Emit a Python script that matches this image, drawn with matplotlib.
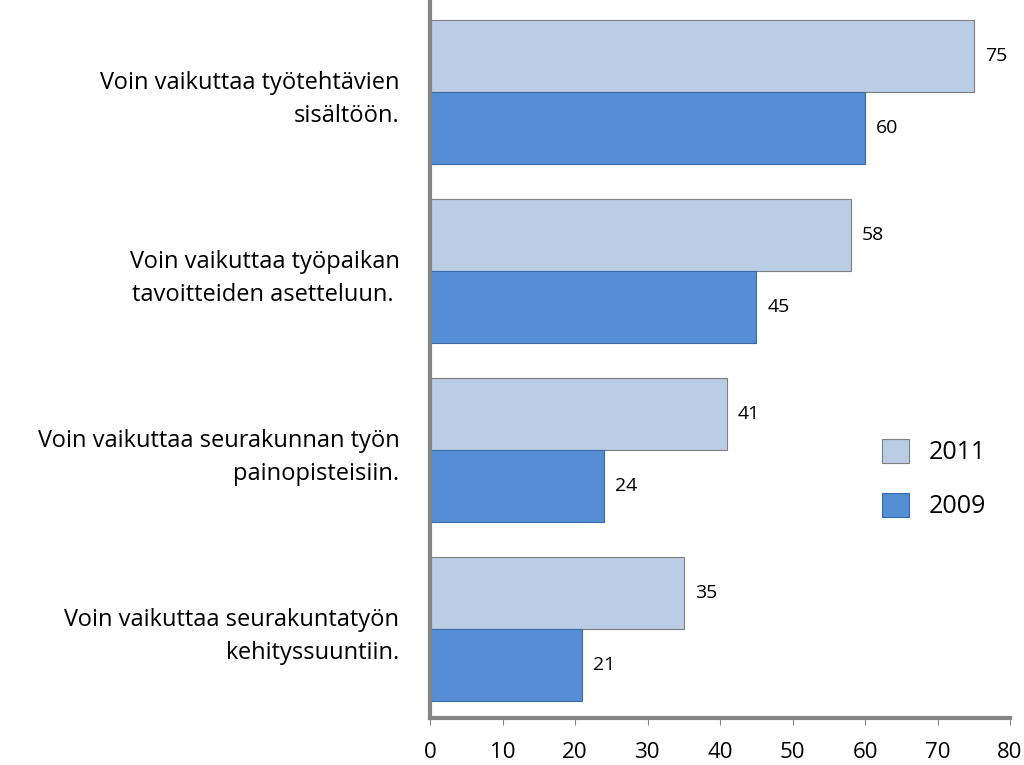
import matplotlib
matplotlib.use("Agg")
import matplotlib.pyplot as plt
import numpy as np

plt.rcParams["font.family"] = "Open Sans"

categories = ["Voin vaikuttaa työtehtävien\nsisältöön.",
              "Voin vaikuttaa työpaikan\ntavoitteiden asetteluun. ",
              "Voin vaikuttaa seurakunnan työn\npainopisteisiin.",
              "Voin vaikuttaa seurakuntatyön\nkehityssuuntiin."]
v2011 = [75, 58, 41, 35]
v2009 = [60, 45, 24, 21]
xticks = [0, 10, 20, 30, 40, 50, 60, 70, 80]

fig = plt.figure(figsize=(10.24, 7.65), dpi=100)
ax = fig.add_axes([430/1024, 1-718/765, 580/1024, 718/765])
y = np.arange(len(categories))
h = 72/179
ax.barh(y - h/2, v2011, height=h, color="#B9CDE5", edgecolor="#7F7F7F", linewidth=0.8, label="2011")
ax.barh(y + h/2, v2009, height=h, color="#558ED5", edgecolor="#3A6AA8", linewidth=0.8, label="2009")
for yi, v in zip(y, v2011):
    ax.text(v + 1.5, yi - h/2, str(v), va="center", ha="left", fontsize=14)
for yi, v in zip(y, v2009):
    ax.text(v + 1.5, yi + h/2, str(v), va="center", ha="left", fontsize=14)
ax.set_ylim(3 + 89/179, -92/179)
ax.set_xlim(0, 80)
ax.set_xticks(xticks)
ax.set_xticklabels([str(t) for t in xticks], fontsize=16)
ax.set_yticks(y)
ax.set_yticklabels(categories, fontsize=17, linespacing=1.5)
ax.tick_params(axis="y", length=0, pad=22)
ax.tick_params(axis="x", length=5, color="#868686", pad=12)
for s in ["top", "right"]:
    ax.spines[s].set_visible(False)
for s in ["left", "bottom"]:
    ax.spines[s].set_color("#868686")
    ax.spines[s].set_linewidth(3)
ax.legend(loc="upper left", bbox_to_anchor=(0.74, 0.42), frameon=False, fontsize=18,
          handlelength=1.1, handleheight=1.1, labelspacing=1.1)
fig.savefig("out.png", dpi=100)
